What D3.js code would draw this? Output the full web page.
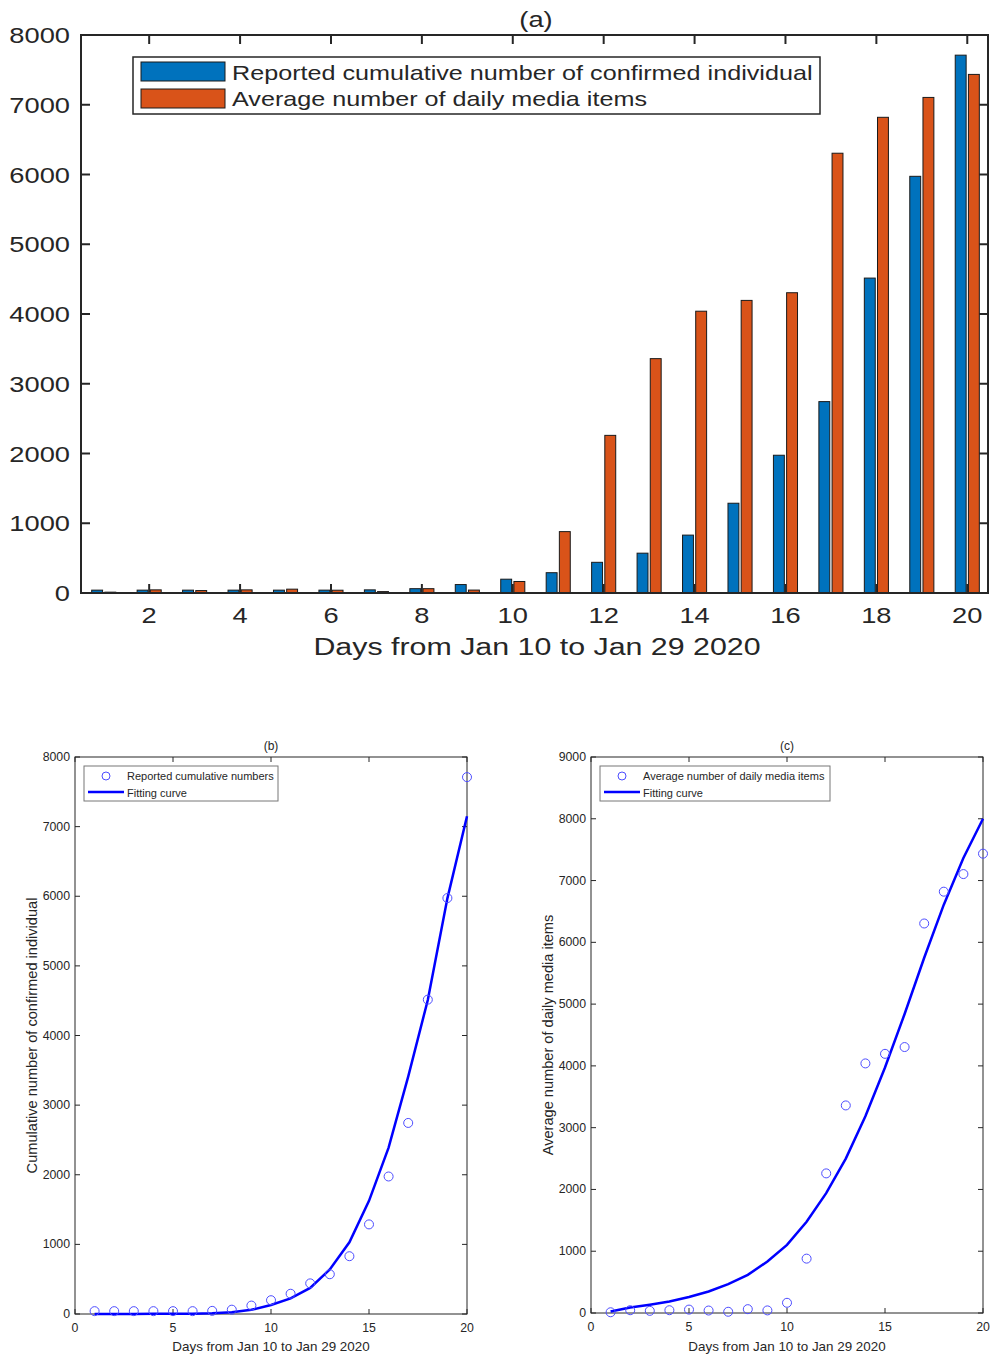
<!DOCTYPE html>
<html>

<head>
    <title>Confirmed cases and media items</title>
    <style>
        body {
            margin: 0;
            background: white;
        }

        text {
            font-family: "Liberation Sans", Arial, sans-serif;
            fill: #262626;
        }

        .frame {
            fill: none;
            stroke: #262626;
        }
    </style>
</head>

<body>
    <svg width="990" height="1356"></svg>

    <script src="https://cdn.jsdelivr.net/npm/d3@7"></script>

    <script>
        // days 1..20 (Jan 10 .. Jan 29 2020)
        const days = d3.range(1, 21);
        const confirmed = [41, 41, 41, 41, 41, 41, 45, 62, 121, 198, 291, 440, 571, 830, 1287, 1975, 2744, 4515, 5974, 7711];
        const media = [12, 45, 35, 45, 55, 40, 20, 62, 42, 165, 880, 2260, 3360, 4040, 4195, 4305, 6305, 6820, 7105, 7435];
        const fitConfirmed = [0, 0, 1, 2, 3, 5, 10, 25, 60, 130, 225, 375, 640, 1030, 1625, 2390, 3410, 4510, 5970, 7150];
        const fitMedia = [25, 90, 135, 187, 258, 349, 468, 618, 833, 1102, 1478, 1940, 2500, 3185, 3975, 4840, 5750, 6610, 7365, 8000];

        const topXTicks = [2, 4, 6, 8, 10, 12, 14, 16, 18, 20];
        const topYTicks = [0, 1000, 2000, 3000, 4000, 5000, 6000, 7000, 8000];
        const bottomXTicks = [0, 5, 10, 15, 20];
        const bTicks = [0, 1000, 2000, 3000, 4000, 5000, 6000, 7000, 8000];
        const cTicks = [0, 1000, 2000, 3000, 4000, 5000, 6000, 7000, 8000, 9000];

        const seriesNames = ["Reported cumulative number of confirmed individual", "Average number of daily media items"];
        const seriesColors = ["#0072BD", "#D95319"];

        const svg = d3.select("svg");

        // text in panel (a) is drawn wider than normal
        const stretch = 1.24;
        function wideText(g, x, y, str, size, anchor) {
            return g.append("text")
                .attr("transform", `translate(${x},${y}) scale(${stretch},1)`)
                .attr("text-anchor", anchor || "start")
                .style("font-size", size + "px")
                .text(str);
        }

        // ---------- panel (a): grouped bars ----------
        const a = svg.append("g");
        const ax = d3.scaleLinear().domain([0.5, 20.5]).range([81, 990]);
        const ay = d3.scaleLinear().domain([0, 8000]).range([593, 35]);
        const barW = 0.24;
        const offsets = [-0.265, 0.025];

        [confirmed, media].forEach((vals, s) => {
            a.selectAll(".bar" + s)
                .data(days)
                .enter().append("rect")
                .attr("x", d => ax(d + offsets[s]))
                .attr("width", d => ax(d + offsets[s] + barW) - ax(d + offsets[s]))
                .attr("y", (d, i) => ay(vals[i]))
                .attr("height", (d, i) => ay(0) - ay(vals[i]))
                .attr("fill", seriesColors[s])
                .attr("stroke", "#1a1a1a")
                .attr("stroke-width", 1);
        });

        a.append("rect").attr("class", "frame")
            .attr("x", ax(0.5)).attr("y", ay(8000))
            .attr("width", ax(20.5) - ax(0.5) - 2).attr("height", ay(0) - ay(8000))
            .attr("stroke-width", 2);

        topXTicks.forEach(t => {
            a.append("line").attr("x1", ax(t)).attr("x2", ax(t)).attr("y1", ay(0)).attr("y2", ay(0) - 9)
                .attr("stroke", "#262626").attr("stroke-width", 2);
            a.append("line").attr("x1", ax(t)).attr("x2", ax(t)).attr("y1", ay(8000)).attr("y2", ay(8000) + 9)
                .attr("stroke", "#262626").attr("stroke-width", 2);
            wideText(a, ax(t), 623, t, 22, "middle");
        });
        topYTicks.forEach(t => {
            a.append("line").attr("x1", ax(0.5)).attr("x2", ax(0.5) + 9).attr("y1", ay(t)).attr("y2", ay(t))
                .attr("stroke", "#262626").attr("stroke-width", 2);
            a.append("line").attr("x1", ax(20.5) - 2).attr("x2", ax(20.5) - 11).attr("y1", ay(t)).attr("y2", ay(t))
                .attr("stroke", "#262626").attr("stroke-width", 2);
            wideText(a, 70, ay(t) + 8, t, 22, "end");
        });

        wideText(a, 536, 27, "(a)", 22, "middle");
        wideText(a, 537, 655, "Days from Jan 10 to Jan 29 2020", 24.5, "middle");

        // legend
        const leg = a.append("g");
        leg.append("rect").attr("x", 133).attr("y", 57).attr("width", 687).attr("height", 57)
            .attr("fill", "white").attr("stroke", "#262626").attr("stroke-width", 1.5);
        seriesNames.forEach((name, i) => {
            leg.append("rect").attr("x", 141).attr("y", 62 + i * 27).attr("width", 84).attr("height", 19)
                .attr("fill", seriesColors[i]).attr("stroke", "#1a1a1a").attr("stroke-width", 1);
            wideText(leg, 232, 80 + i * 26, name, 20.3);
        });

        // ---------- panels (b) and (c): points and fitted curve ----------
        function scatterPanel(opts) {
            const g = svg.append("g");
            const x = d3.scaleLinear().domain([0, 20]).range([opts.x0, opts.x1]);
            const y = d3.scaleLinear().domain([0, opts.ymax]).range([opts.y0, 757]);

            g.append("rect").attr("class", "frame")
                .attr("x", x(0)).attr("y", y(opts.ymax))
                .attr("width", x(20) - x(0)).attr("height", y(0) - y(opts.ymax))
                .attr("stroke-width", 1);

            bottomXTicks.forEach(t => {
                g.append("line").attr("x1", x(t)).attr("x2", x(t)).attr("y1", y(0)).attr("y2", y(0) - 5).attr("stroke", "#262626");
                g.append("line").attr("x1", x(t)).attr("x2", x(t)).attr("y1", y(opts.ymax)).attr("y2", y(opts.ymax) + 5).attr("stroke", "#262626");
                g.append("text").attr("x", x(t)).attr("y", y(0) + 18).attr("text-anchor", "middle")
                    .style("font-size", "12.3px").text(t);
            });
            opts.yTicks.forEach(t => {
                g.append("line").attr("x1", x(0)).attr("x2", x(0) + 5).attr("y1", y(t)).attr("y2", y(t)).attr("stroke", "#262626");
                g.append("line").attr("x1", x(20)).attr("x2", x(20) - 5).attr("y1", y(t)).attr("y2", y(t)).attr("stroke", "#262626");
                g.append("text").attr("x", x(0) - 5).attr("y", y(t) + 4).attr("text-anchor", "end")
                    .style("font-size", "12.3px").text(t);
            });

            g.append("text").attr("x", (x(0) + x(20)) / 2).attr("y", 750).attr("text-anchor", "middle")
                .style("font-size", "12px").text(opts.title);
            g.append("text").attr("x", (x(0) + x(20)) / 2).attr("y", 1351).attr("text-anchor", "middle")
                .style("font-size", "13.4px").text("Days from Jan 10 to Jan 29 2020");
            g.append("text")
                .attr("transform", `translate(${opts.ylabX},${(y(0) + y(opts.ymax)) / 2}) rotate(-90)`)
                .attr("text-anchor", "middle")
                .style("font-size", "14.6px").text(opts.ylabel);

            const line = d3.line().x((d, i) => x(days[i])).y(d => y(d));
            g.append("path").datum(opts.fit)
                .attr("d", line)
                .attr("fill", "none").attr("stroke", "#0000ff").attr("stroke-width", 2.5);

            g.selectAll(".pt")
                .data(opts.points)
                .enter().append("circle")
                .attr("cx", (d, i) => x(days[i]))
                .attr("cy", d => y(d))
                .attr("r", 4.5)
                .attr("fill", "none").attr("stroke", "#4d4dff").attr("stroke-width", 1);

            // legend
            const lx = x(0) + 9;
            g.append("rect").attr("x", lx).attr("y", 766).attr("width", opts.legW).attr("height", 35)
                .attr("fill", "white").attr("stroke", "#777").attr("stroke-width", 1);
            g.append("circle").attr("cx", lx + 22).attr("cy", 776).attr("r", 4)
                .attr("fill", "none").attr("stroke", "#4d4dff").attr("stroke-width", 1);
            g.append("text").attr("x", lx + 43).attr("y", 780).style("font-size", "11px").text(opts.pointName);
            g.append("line").attr("x1", lx + 4).attr("x2", lx + 40).attr("y1", 792).attr("y2", 792)
                .attr("stroke", "#0000ff").attr("stroke-width", 2.5);
            g.append("text").attr("x", lx + 43).attr("y", 797).style("font-size", "11px").text("Fitting curve");
        }

        scatterPanel({
            x0: 75, x1: 467, y0: 1314, ymax: 8000, yTicks: bTicks,
            title: "(b)", ylabel: "Cumulative number of confirmed individual", ylabX: 37,
            points: confirmed, fit: fitConfirmed,
            pointName: "Reported cumulative numbers", legW: 194
        });

        scatterPanel({
            x0: 591, x1: 983, y0: 1313, ymax: 9000, yTicks: cTicks,
            title: "(c)", ylabel: "Average number of daily media items", ylabX: 553,
            points: media, fit: fitMedia,
            pointName: "Average number of daily media items", legW: 230
        });
    </script>
</body>

</html>
